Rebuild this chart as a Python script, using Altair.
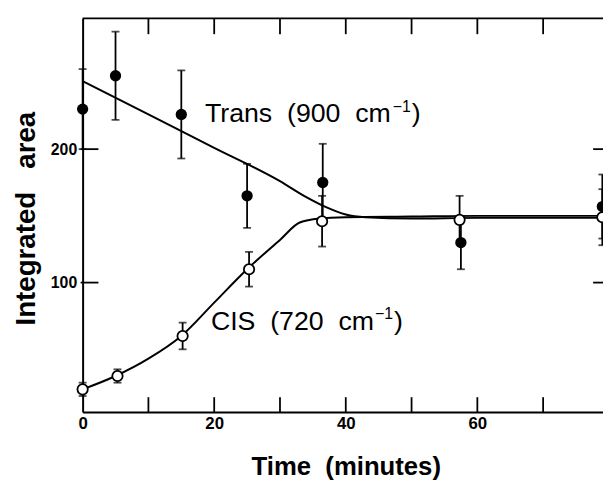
import altair as alt
import pandas as pd

# ---- data ----
trans_t = [0, 5, 15, 25, 36.5, 57.5, 79]
trans_y = [230, 255, 226, 165, 175, 130, 157]
trans_err = [30, 33, 33, 24, 29, 20, 24]

cis_t = [0, 5.3, 15.2, 25.3, 36.4, 57.3, 79]
cis_y = [20, 30, 60, 110, 146, 147, 149]
cis_err = [5, 5, 10, 13, 19, 18, 21]

trans_fit_t = [0, 10, 20, 30, 34, 37, 40, 43, 50, 60, 70, 80]
trans_fit_y = [251, 226, 201, 176, 164, 156.5, 151, 149, 148, 148.5, 148.5, 148.5]
cis_fit_t = [0, 5, 10, 15, 20, 25, 30, 33, 36, 40, 50, 60, 80]
cis_fit_y = [20, 30, 43, 60, 85, 110, 132, 145, 148, 149, 149.5, 150, 150]

x_tick_values = [10, 20, 30, 40, 50, 60, 70]
x_label_values = [0, 20, 40, 60]
y_tick_values = [100, 200]

NB = "\u00a0"
trans_label = ["Trans" + NB * 2 + "(900" + NB * 2 + "cm", "\u22121", ")"]
cis_label = ["CIS" + NB * 2 + "(720" + NB * 2 + "cm", "\u22121", ")"]
trans_pos = [18.6, 220]
cis_pos = [19.5, 64.5]

# ---- layout ----
W = 526.5
H = 398.3
FONT = "Liberation Sans"
FS = 27      # annotation font size
SFS = 16     # superscript font size

xscale = alt.Scale(domain=[0, 79.1], nice=False, zero=False)
yscale = alt.Scale(domain=[3, 298], nice=False, zero=False)

xaxis = alt.Axis(values=x_label_values, ticks=False, grid=False, domain=True,
                 domainWidth=2, domainColor="black", labelFont=FONT,
                 labelFontSize=17, labelFontWeight="bold", labelColor="black",
                 labelPadding=4, title="Time" + NB * 2 + "(minutes)", titleFont=FONT,
                 titleFontSize=26, titleFontWeight="bold", titleColor="black",
                 titleX=W / 2 + 3, titleY=63, titleBaseline="alphabetic",
                 titleAlign="center", labelFlush=False)
yaxis = alt.Axis(values=y_tick_values, ticks=False, grid=False, domain=True,
                 domainWidth=2, domainColor="black", labelFont=FONT,
                 labelFontSize=16, labelFontWeight="bold", labelColor="black",
                 labelPadding=6, title="Integrated" + NB * 3 + "area", titleFont=FONT,
                 titleFontSize=28, titleFontWeight="bold", titleColor="black",
                 titleX=-49, titleY=H / 2 + 3, titleAngle=270,
                 titleBaseline="alphabetic", titleAlign="center", labelFlush=False)

X = alt.X("t:Q", scale=xscale, axis=xaxis)
Y = alt.Y("y:Q", scale=yscale, axis=yaxis)

trans = pd.DataFrame({"t": trans_t, "y": trans_y, "err": trans_err})
trans["lo"] = trans["y"] - trans["err"]
trans["hi"] = trans["y"] + trans["err"]
cis = pd.DataFrame({"t": cis_t, "y": cis_y, "err": cis_err})
cis["lo"] = cis["y"] - cis["err"]
cis["hi"] = cis["y"] + cis["err"]

tfit = pd.DataFrame({"t": trans_fit_t, "y": trans_fit_y})
cfit = pd.DataFrame({"t": cis_fit_t, "y": cis_fit_y})

line_t = alt.Chart(tfit).mark_line(color="black", strokeWidth=2, interpolate="monotone").encode(x=X, y=Y)
line_c = alt.Chart(cfit).mark_line(color="black", strokeWidth=2, interpolate="monotone").encode(x=X, y=Y)

def errbars(df):
    bar = alt.Chart(df).mark_rule(color="black", strokeWidth=1.8).encode(
        x=X, y=alt.Y("lo:Q", scale=yscale), y2="hi:Q")
    cap_hi = alt.Chart(df).mark_tick(color="black", orient="horizontal", size=8, thickness=1.8).encode(
        x=X, y=alt.Y("hi:Q", scale=yscale))
    cap_lo = alt.Chart(df).mark_tick(color="black", orient="horizontal", size=8, thickness=1.8).encode(
        x=X, y=alt.Y("lo:Q", scale=yscale))
    return bar + cap_hi + cap_lo

pts_t = alt.Chart(trans).mark_point(shape="circle", filled=True, color="black", size=130, opacity=1).encode(x=X, y=Y)
pts_c = alt.Chart(cis).mark_point(shape="circle", filled=True, fill="white", stroke="black",
                                  strokeWidth=1.8, size=110, opacity=1).encode(x=X, y=Y)

# Arial/Liberation Sans advance widths (em) used to place superscript pieces
ADV = {"T": .611, "r": .333, "a": .556, "n": .556, "s": .5, NB: .278, "(": .333,
       "9": .556, "0": .556, "7": .556, "2": .556, "c": .5, "m": .833,
       "C": .722, "I": .278, "S": .667, "\u2212": .584, "1": .556}

def width(s, fs):
    return sum(ADV.get(ch, .556) for ch in s) * fs

def label_marks(parts, pos):
    df = pd.DataFrame({"t": [pos[0]], "y": [pos[1]]})
    w0 = width(parts[0], FS)
    w1 = width(parts[1], SFS)
    m0 = alt.Chart(df).mark_text(font=FONT, fontSize=FS, color="black", align="left",
                                 baseline="alphabetic", text=parts[0]).encode(x=X, y=Y)
    m1 = alt.Chart(df).mark_text(font=FONT, fontSize=SFS, color="black", align="left",
                                 baseline="alphabetic", text=parts[1], dx=w0 + 1, dy=-11).encode(x=X, y=Y)
    m2 = alt.Chart(df).mark_text(font=FONT, fontSize=FS, color="black", align="left",
                                 baseline="alphabetic", text=parts[2], dx=w0 + w1 + 2).encode(x=X, y=Y)
    return m0 + m1 + m2

# frame pieces and inward ticks
frame_top = alt.Chart(pd.DataFrame({"k": [0]})).mark_rule(color="black", strokeWidth=2).encode(
    x=alt.value(0), x2=alt.value(W), y=alt.value(0))
xt = pd.DataFrame({"t": x_tick_values})
ticks_top = alt.Chart(xt).mark_rule(color="black", strokeWidth=1.8).encode(
    x=X, y=alt.value(0), y2=alt.value(16))
ticks_bot = alt.Chart(xt).mark_rule(color="black", strokeWidth=1.8).encode(
    x=X, y=alt.value(H - 15), y2=alt.value(H))
yt = pd.DataFrame({"y": y_tick_values})
ticks_left = alt.Chart(yt).mark_rule(color="black", strokeWidth=1.8).encode(
    y=Y, x=alt.value(-2), x2=alt.value(16))
ticks_right = alt.Chart(yt).mark_rule(color="black", strokeWidth=1.8).encode(
    y=Y, x=alt.value(W - 10), x2=alt.value(W))

chart = alt.layer(
    frame_top, ticks_top, ticks_bot, ticks_left, ticks_right,
    line_t, line_c, errbars(trans), errbars(cis), pts_t, pts_c,
    label_marks(trans_label, trans_pos), label_marks(cis_label, cis_pos)
).properties(
    width=W, height=H,
    autosize=alt.AutoSizeParams(type="none"),
    padding={"left": 75.5, "top": 7.7, "right": 0, "bottom": 68},
    background="white",
).configure_view(stroke=None)

chart.save("out.html", embed_options={"renderer": "svg", "actions": False})
